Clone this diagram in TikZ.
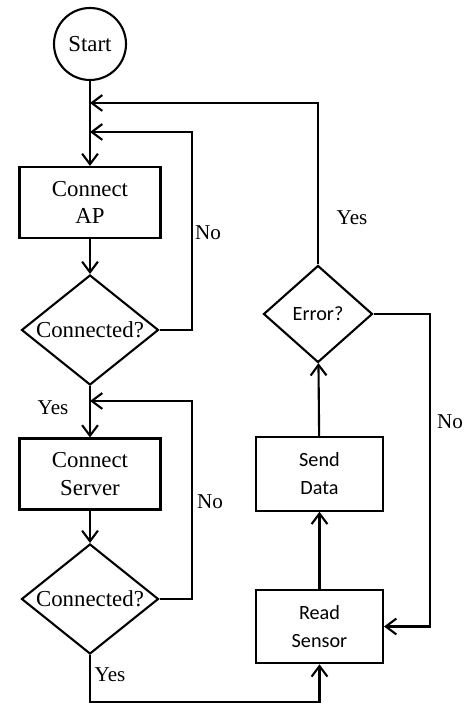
\documentclass[tikz,border=0pt]{standalone}
\usepackage{fontspec}
\setmainfont{Liberation Serif}
\newfontfamily\calibri{Carlito}
\usetikzlibrary{shapes.geometric}
\usetikzlibrary{arrows.meta}
\usetikzlibrary{positioning}

\begin{document}
\begin{tikzpicture}[line width=1.2pt, >={Straight Barb[length=6pt,width=9pt]},
	every node/.style={font=\fontsize{13}{15.5}\selectfont},
	startnode/.style={draw, circle, minimum size=1.44cm, inner sep=0pt},
	leftbox/.style={draw, rectangle, minimum width=2.82cm, minimum height=1.42cm, align=center},
	rightbox/.style={draw, rectangle, minimum width=2.54cm, minimum height=1.47cm, align=center, font=\calibri\fontsize{11.5}{16}\selectfont},
	decision/.style={draw, diamond, shape aspect=1.25, inner sep=0pt, minimum width=2.74cm, minimum height=2.2cm},
	answer/.style={font=\fontsize{12}{14}\selectfont}]

% Frame
\useasboundingbox (0,0) rectangle (9.32,14.12);

% Joins and corners
\coordinate (join1) at (1.8,12.06);
\coordinate (join2) at (1.8,11.48);
\coordinate (join3) at (1.8,6.10);
\coordinate (no1) at (3.84,11.48);
\coordinate (no2) at (3.84,6.10);
\coordinate (no3) at (8.6,1.59);
\coordinate (bot) at (6.39,0.08);

% Nodes
\node[startnode] (start) at (1.8,13.24) {Start};
\node[leftbox] (ap) at (1.8,10.07) {Connect\\AP};
\node[decision] (conn1) at (1.8,7.52) {Connected?};
\node[leftbox] (server) at (1.8,4.64) {Connect\\Server};
\node[decision] (conn2) at (1.8,2.14) {Connected?};
\node[rightbox] (read) at (6.39,1.59) {Read\\Sensor};
\node[rightbox] (send) at (6.39,4.64) {Send\\Data};
\node[decision, minimum width=2.18cm, minimum height=1.94cm, font=\calibri\fontsize{11.5}{14}\selectfont] (err) at (6.36,7.84) {Error?};

% Connections
\draw[->] (start) -- (ap);
\draw[->] (ap) -- (conn1);
\draw[->] (conn1) -- (server);
\draw[->] (server) -- (conn2);
\draw[->] (conn2.south) |- (bot) -- (read.south);
\draw[->] (conn1.east) -| (no1) -- (join2);
\draw[->] (conn2.east) -| (no2) -- (join3);
\draw[->] (read) -- (send);
\draw[->] (send) -- (err);
\draw[->] (err.north) |- (join1);
\draw[->] (err.east) -| (no3) -- (read.east);

% Labels
\node[answer] (no1lbl) at (4.16,9.46) {No};
\node[answer] (yes1lbl) at (1.06,5.96) {Yes};
\node[answer] (no2lbl) at (4.2,4.08) {No};
\node[answer] (yes2lbl) at (2.2,0.62) {Yes};
\node[answer] (yes3lbl) at (7.04,9.76) {Yes};
\node[answer] (no3lbl) at (9.0,5.68) {No};
\end{tikzpicture}
\end{document}
